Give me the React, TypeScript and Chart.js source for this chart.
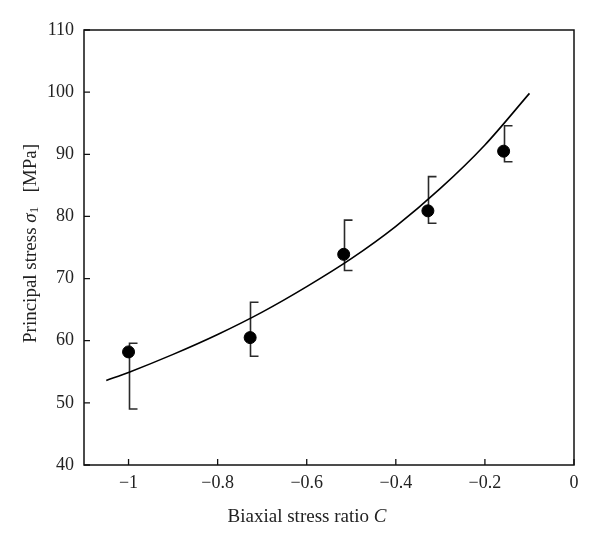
import React, { useEffect, useRef } from "react";
import { Chart, registerables } from "chart.js";

Chart.register(...registerables);

// ---- Data ----
const xTickValues = [-1, -0.8, -0.6, -0.4, -0.2, 0];
const yTickValues = [40, 50, 60, 70, 80, 90, 100, 110];

const ratioC = [-1, -0.727, -0.517, -0.328, -0.158];
const stressMean = [58.2, 60.5, 73.9, 80.9, 90.5];
const stressUpper = [59.6, 66.2, 79.4, 86.4, 94.6];
const stressLower = [49.0, 57.5, 71.3, 78.9, 88.8];

const fitC = [-1.05, -1.0, -0.9, -0.8, -0.7, -0.6, -0.5, -0.4, -0.3, -0.2, -0.1];
const fitStress = [53.6, 54.9, 57.8, 61.0, 64.6, 68.7, 73.2, 78.4, 84.5, 91.5, 99.8];

const FONT = "'Liberation Serif', 'DejaVu Serif', serif";
const TEXT = "#222";

const fmt = (v: number) => {
  const r = Math.round(v * 100) / 100;
  return r < 0 ? "\u2212" + String(Math.abs(r)) : String(r);
};

export default function App() {
  const ref = useRef<HTMLCanvasElement>(null);

  useEffect(() => {
    if (!ref.current) return;

    const decor = {
      id: "decor",
      beforeDatasetsDraw(chart: any) {
        const { ctx, scales } = chart;
        const x = scales.x, y = scales.y;
        ctx.save();
        ctx.strokeStyle = "#2a2a2a";
        ctx.lineWidth = 1.6;
        const cap = 8;
        ratioC.forEach((c, i) => {
          const px = Math.round(x.getPixelForValue(c)) + 0.5;
          const top = y.getPixelForValue(stressUpper[i]);
          const bot = y.getPixelForValue(stressLower[i]);
          ctx.beginPath();
          ctx.moveTo(px + cap, top);
          ctx.lineTo(px, top);
          ctx.lineTo(px, bot);
          ctx.lineTo(px + cap, bot);
          ctx.stroke();
        });
        ctx.restore();
      },
      afterDraw(chart: any) {
        const { ctx, chartArea, scales } = chart;
        const x = scales.x, y = scales.y;
        const { left, right, top, bottom } = chartArea;
        ctx.save();
        ctx.strokeStyle = "#111";
        ctx.lineWidth = 1.5;
        ctx.strokeRect(left, top, right - left, bottom - top);
        // inward ticks
        ctx.lineWidth = 1.3;
        ctx.beginPath();
        xTickValues.forEach((v) => {
          const px = x.getPixelForValue(v);
          ctx.moveTo(px, bottom);
          ctx.lineTo(px, bottom - 6);
        });
        yTickValues.forEach((v) => {
          const py = y.getPixelForValue(v);
          ctx.moveTo(left, py);
          ctx.lineTo(left + 6, py);
        });
        ctx.stroke();

        // x title
        ctx.fillStyle = TEXT;
        ctx.textBaseline = "middle";
        ctx.textAlign = "left";
        const normal = `19px ${FONT}`;
        const italic = `italic 19px ${FONT}`;
        const small = `13px ${FONT}`;
        const xa = "Biaxial stress ratio ";
        const xb = "C";
        ctx.font = normal;
        const wa = ctx.measureText(xa).width;
        ctx.font = italic;
        const wb = ctx.measureText(xb).width;
        const cx = (left + right) / 2 - 22;
        const cy = bottom + 52;
        let sx = cx - (wa + wb) / 2;
        ctx.font = normal;
        ctx.fillText(xa, sx, cy);
        ctx.font = italic;
        ctx.fillText(xb, sx + wa, cy);

        // y title (rotated)
        const parts = [
          { t: "Principal stress ", f: normal, dy: 0 },
          { t: "\u03C3", f: italic, dy: 0 },
          { t: "1", f: small, dy: 4 },
          { t: "   [MPa]", f: normal, dy: 0 },
        ];
        let total = 0;
        const widths = parts.map((p) => {
          ctx.font = p.f;
          const w = ctx.measureText(p.t).width;
          total += w;
          return w;
        });
        ctx.translate(left - 53, (top + bottom) / 2 - 4);
        ctx.rotate(-Math.PI / 2);
        let pos = -total / 2;
        parts.forEach((p, i) => {
          ctx.font = p.f;
          ctx.fillText(p.t, pos, p.dy);
          pos += widths[i];
        });
        ctx.restore();
      },
    };

    const chart = new Chart(ref.current, {
      type: "scatter",
      data: {
        datasets: [
          {
            type: "scatter",
            label: "Measured",
            data: ratioC.map((c, i) => ({ x: c, y: stressMean[i] })),
            backgroundColor: "#000",
            borderColor: "#000",
            pointRadius: 6,
            pointHoverRadius: 6,
            order: 0,
          },
          {
            type: "line",
            label: "Fit",
            data: fitC.map((c, i) => ({ x: c, y: fitStress[i] })),
            borderColor: "#000",
            borderWidth: 1.6,
            pointRadius: 0,
            fill: false,
            cubicInterpolationMode: "monotone",
            order: 1,
          } as any,
        ],
      },
      options: {
        responsive: false,
        animation: false,
        layout: { padding: { left: 0, right: 26, top: 30, bottom: 0 } },
        plugins: {
          legend: { display: false },
          tooltip: { enabled: false },
        },
        scales: {
          x: {
            type: "linear",
            min: -1.1,
            max: 0,
            grid: { display: false, drawTicks: false },
            border: { display: false },
            afterBuildTicks: (s: any) => {
              s.ticks = xTickValues.map((v) => ({ value: v }));
            },
            afterFit: (s: any) => {
              s.height = 83;
            },
            ticks: {
              color: TEXT,
              font: { family: FONT, size: 18 },
              padding: 7,
              maxRotation: 0,
              autoSkip: false,
              callback: (v: any) => fmt(Number(v)),
            },
          },
          y: {
            type: "linear",
            min: 40,
            max: 110,
            grid: { display: false, drawTicks: false },
            border: { display: false },
            afterBuildTicks: (s: any) => {
              s.ticks = yTickValues.map((v) => ({ value: v }));
            },
            afterFit: (s: any) => {
              s.width = 84;
            },
            ticks: {
              color: TEXT,
              font: { family: FONT, size: 18 },
              padding: 10,
              autoSkip: false,
              callback: (v: any) => fmt(Number(v)),
            },
          },
        },
      },
      plugins: [decor],
    });

    return () => chart.destroy();
  }, []);

  return (
    <div style={{ position: "fixed", left: 0, top: 0, width: 600, height: 548, background: "#fff" }}>
      <canvas ref={ref} width={600} height={548} style={{ display: "block" }} />
    </div>
  );
}
